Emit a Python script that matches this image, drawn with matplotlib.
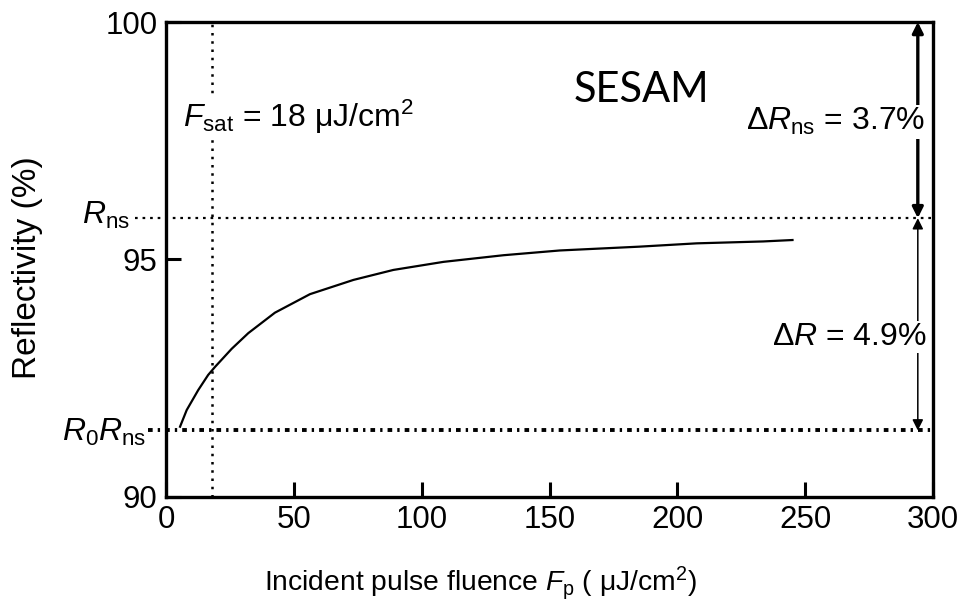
import numpy as np
import matplotlib
matplotlib.use("Agg")
import matplotlib.pyplot as plt

# # # # # # # # # # # # # # # # # # # # # # # # # # # # # # # # # # # #
# DATA
# # # # # # # # # # # # # # # # # # # # # # # # # # # # # # # # # # # #

fluence = [5.5, 8.1, 12.6, 16.5, 19.2, 25.7, 32.2, 42.6, 56.3, 73.3, 88.9,
           108.5, 132.0, 154.0, 185.0, 207.5, 233.5, 245.0]  # uJ/cm^2
reflectivity = [91.48, 91.83, 92.25, 92.57, 92.74, 93.12, 93.45, 93.88, 94.27,
                94.57, 94.78, 94.95, 95.09, 95.19, 95.27, 95.34, 95.38,
                95.41]  # %

F_SAT = 18.0
R_NS = 95.87
R0_RNS = 91.4
X_TICKS = [0, 50, 100, 150, 200, 250, 300]
Y_TICKS = [90, 95, 100]

# # # # # # # # # # # # # # # # # # # # # # # # # # # # # # # # # # # #
# STYLE
# # # # # # # # # # # # # # # # # # # # # # # # # # # # # # # # # # # #

plt.rcParams["font.family"] = ["Liberation Sans", "DejaVu Sans"]
plt.rcParams["mathtext.fontset"] = "custom"
plt.rcParams["mathtext.rm"] = "Liberation Sans"
plt.rcParams["mathtext.it"] = "Liberation Sans:italic"
plt.rcParams["mathtext.bf"] = "Liberation Sans:bold"

FS_TICK = 22.5
FS_ANN = 23
fig = plt.figure(figsize=(9.65, 6.08), dpi=100)
ax = fig.add_axes([0.172, 0.1826, 0.795, 0.7812])

ax.plot(fluence, reflectivity, color="black", lw=1.6)

# reference lines (extend a bit outside the frame on the left)
ax.plot([-12, 300], [R_NS, R_NS], color="black", lw=1.6,
        ls=(0, (1.2, 2.2)), clip_on=False)
ax.plot([-7, 300], [R0_RNS, R0_RNS], color="black", lw=2.8,
        ls=(0, (1.2, 1.3, 0.6, 1.3)), clip_on=False)
ax.axvline(F_SAT, color="black", lw=1.8, ls=(0, (1, 2.3)))

ax.set_xlim(0, 300)
ax.set_ylim(90, 100)
ax.set_xticks(X_TICKS)
ax.set_yticks(Y_TICKS)
ax.tick_params(direction="in", length=11, width=2.2, labelsize=FS_TICK)
ax.tick_params(axis="x", pad=6)
ax.tick_params(axis="y", pad=6)
for s in ax.spines.values():
    s.set_linewidth(2.4)

# arrows on the right
arrow_x = 294
ax.annotate("", xy=(arrow_x, 100), xytext=(arrow_x, R_NS),
            arrowprops=dict(arrowstyle="<|-|>", color="black", lw=2.4,
                            mutation_scale=16, shrinkA=0, shrinkB=0))
ax.annotate("", xy=(arrow_x, R_NS), xytext=(arrow_x, R0_RNS),
            arrowprops=dict(arrowstyle="<|-|>", color="black", lw=1.1,
                            mutation_scale=16, shrinkA=0, shrinkB=0))

box = dict(facecolor="white", edgecolor="none", pad=1)
ax.text(297, 97.9, "Δ$R_{\\rm ns}$ = 3.7%", fontsize=FS_ANN, ha="right",
        va="center", bbox=box)
ax.text(297.5, 93.37, "Δ$R$ = 4.9%", fontsize=FS_ANN, ha="right",
        va="center", bbox=box)

ax.text(6.5, 98.0, "$F_{\\rm sat}$ = 18 μJ/cm$^2$", fontsize=FS_ANN,
        ha="left", va="center", bbox=box)
ax.text(185.8, 98.57, "SESAM", fontsize=30, ha="center", va="center",
        family=["Lato", "DejaVu Sans"])

# labels of the reference lines, left of the frame
ax.text(-14, R_NS + 0.05, "$R_{\\rm ns}$", fontsize=FS_ANN, ha="right",
        va="center")
ax.text(-7.5, R0_RNS - 0.05, "$R_0R_{\\rm ns}$", fontsize=FS_ANN, ha="right",
        va="center")

fig.text(480 / 965, 1 - 583 / 608,
         "Incident pulse fluence $F_{\\rm p}$ ( μJ/cm$^2$)",
         fontsize=20.3, ha="center", va="center")
fig.text(28 / 965, 1 - 268 / 608, "Reflectivity (%)", fontsize=24,
         rotation=90, ha="center", va="center")

fig.savefig("out.png", dpi=100)
